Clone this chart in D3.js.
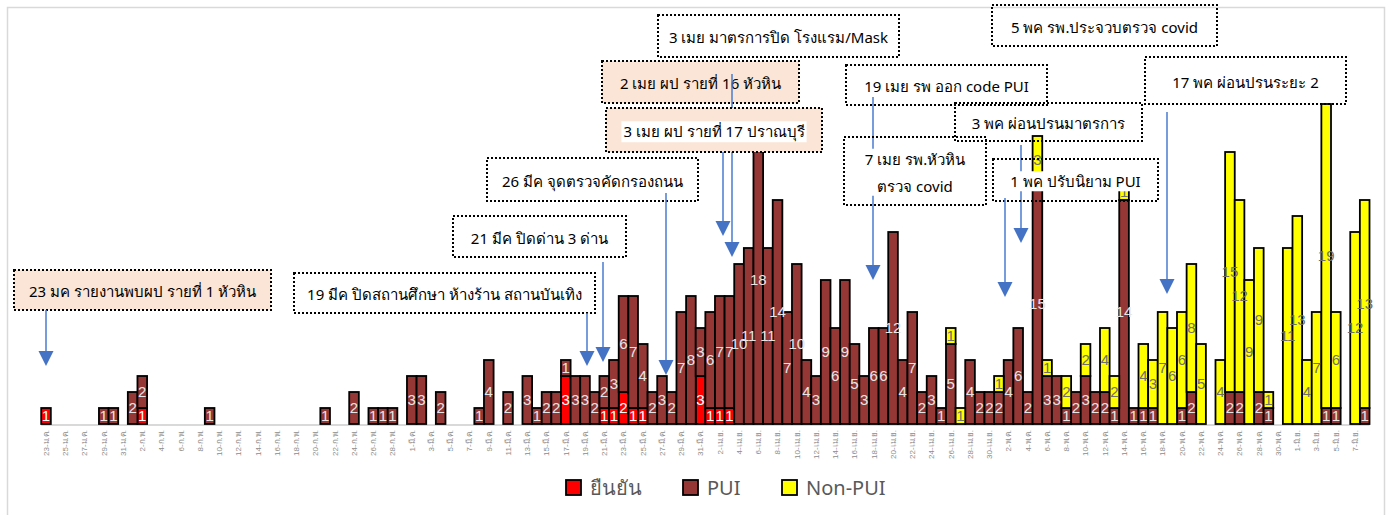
<!DOCTYPE html>
<html><head><meta charset="utf-8">
<script src="https://cdn.jsdelivr.net/npm/d3@7"></script>
<style>body{margin:0;background:#fff}svg{display:block}</style>
</head><body><svg id="c" width="1387" height="515"></svg>
<script>
const categories = [
"23-ม.ค.","24-ม.ค.","25-ม.ค.","26-ม.ค.","27-ม.ค.","28-ม.ค.","29-ม.ค.","30-ม.ค.","31-ม.ค.",
"1-ก.พ.","2-ก.พ.","3-ก.พ.","4-ก.พ.","5-ก.พ.","6-ก.พ.","7-ก.พ.","8-ก.พ.","9-ก.พ.","10-ก.พ.","11-ก.พ.","12-ก.พ.","13-ก.พ.","14-ก.พ.","15-ก.พ.","16-ก.พ.","17-ก.พ.","18-ก.พ.","19-ก.พ.","20-ก.พ.","21-ก.พ.","22-ก.พ.","23-ก.พ.","24-ก.พ.","25-ก.พ.","26-ก.พ.","27-ก.พ.","28-ก.พ.","29-ก.พ.",
"1-มี.ค.","2-มี.ค.","3-มี.ค.","4-มี.ค.","5-มี.ค.","6-มี.ค.","7-มี.ค.","8-มี.ค.","9-มี.ค.","10-มี.ค.","11-มี.ค.","12-มี.ค.","13-มี.ค.","14-มี.ค.","15-มี.ค.","16-มี.ค.","17-มี.ค.","18-มี.ค.","19-มี.ค.","20-มี.ค.","21-มี.ค.","22-มี.ค.","23-มี.ค.","24-มี.ค.","25-มี.ค.","26-มี.ค.","27-มี.ค.","28-มี.ค.","29-มี.ค.","30-มี.ค.","31-มี.ค.",
"1-เม.ย.","2-เม.ย.","3-เม.ย.","4-เม.ย.","5-เม.ย.","6-เม.ย.","7-เม.ย.","8-เม.ย.","9-เม.ย.","10-เม.ย.","11-เม.ย.","12-เม.ย.","13-เม.ย.","14-เม.ย.","15-เม.ย.","16-เม.ย.","17-เม.ย.","18-เม.ย.","19-เม.ย.","20-เม.ย.","21-เม.ย.","22-เม.ย.","23-เม.ย.","24-เม.ย.","25-เม.ย.","26-เม.ย.","27-เม.ย.","28-เม.ย.","29-เม.ย.","30-เม.ย.",
"1-พ.ค.","2-พ.ค.","3-พ.ค.","4-พ.ค.","5-พ.ค.","6-พ.ค.","7-พ.ค.","8-พ.ค.","9-พ.ค.","10-พ.ค.","11-พ.ค.","12-พ.ค.","13-พ.ค.","14-พ.ค.","15-พ.ค.","16-พ.ค.","17-พ.ค.","18-พ.ค.","19-พ.ค.","20-พ.ค.","21-พ.ค.","22-พ.ค.","23-พ.ค.","24-พ.ค.","25-พ.ค.","26-พ.ค.","27-พ.ค.","28-พ.ค.","29-พ.ค.","30-พ.ค.","31-พ.ค.",
"1-มิ.ย.","2-มิ.ย.","3-มิ.ย.","4-มิ.ย.","5-มิ.ย.","6-มิ.ย.","7-มิ.ย.","8-มิ.ย."
];
const confirmed = [
1,0,0,0,0,0,0,0,0,
0,1,0,0,0,0,0,0,0,0,0,0,0,0,0,0,0,0,0,0,0,0,0,0,0,0,0,0,0,
0,0,0,0,0,0,0,0,0,0,0,0,0,0,0,0,3,0,0,0,1,1,2,1,1,0,0,0,0,0,3,
1,1,1,0,0,0,0,0,0,0,0,0,0,0,0,0,0,0,0,0,0,0,0,0,0,0,0,0,0,0,
0,0,0,0,0,0,0,0,0,0,0,0,0,0,0,0,0,0,0,0,0,0,0,0,0,0,0,0,0,0,0,
0,0,0,0,0,0,0,0
];
const pui = [
0,0,0,0,0,0,1,1,0,
2,2,0,0,0,0,0,0,1,0,0,0,0,0,0,0,0,0,0,0,1,0,0,2,0,1,1,1,0,
3,3,0,2,0,0,0,1,4,0,2,0,3,1,2,2,1,3,3,2,2,3,6,7,4,2,3,2,7,8,3,
6,7,7,10,11,18,11,14,7,10,4,3,9,6,9,5,3,6,6,12,4,7,2,3,1,5,0,4,2,2,
2,4,6,2,15,3,3,1,2,3,2,2,1,14,1,1,1,0,0,1,2,0,0,0,2,2,0,2,1,0,0,
0,0,0,1,1,0,0,1
];
const nonPui = [
0,0,0,0,0,0,0,0,0,
0,0,0,0,0,0,0,0,0,0,0,0,0,0,0,0,0,0,0,0,0,0,0,0,0,0,0,0,0,
0,0,0,0,0,0,0,0,0,0,0,0,0,0,0,0,0,0,0,0,0,0,0,0,0,0,0,0,0,0,0,
0,0,0,0,0,0,0,0,0,0,0,0,0,0,0,0,0,0,0,0,0,0,0,0,0,1,1,0,0,0,
1,0,0,0,3,1,0,2,0,2,0,4,2,1,0,4,3,7,6,6,8,5,0,4,15,12,9,9,1,0,11,
13,4,7,19,6,0,12,13
];
const seriesNames = ["ยืนยัน","PUI","Non-PUI"];

const colors = ["#FF0000","#953735","#FFFF00"];
const labelColors = ["#ffffff","#e6e6e6","#6e6e6e"];
const svg = d3.select("#c");
svg.append("rect").attr("x",0).attr("y",0).attr("width",1387).attr("height",515).attr("fill","#fff");
svg.append("rect").attr("x",7.5).attr("y",7.5).attr("width",1377).attr("height",540)
  .attr("fill","none").attr("stroke","#d9d9d9").attr("stroke-width",1.5);

const x = d3.scaleBand().domain(categories).range([41.2,1369.5]).padding(0);
const y = d3.scaleLinear().domain([0,25]).range([424,24]);
const table = categories.map((c,i)=>({cat:c,c0:confirmed[i],c1:pui[i],c2:nonPui[i]}));
const keys = ["c0","c1","c2"];
const stacked = d3.stack().keys(keys)(table);

// axis
svg.append("line").attr("x1",x.range()[0]).attr("x2",x.range()[1]).attr("y1",425).attr("y2",425)
  .attr("stroke","#d9d9d9").attr("stroke-width",2);
const tickCats = categories.filter((c,i)=>i%2===0);
const axis = d3.axisBottom(x).tickValues(tickCats).tickSize(0).tickPadding(0);
const ag = svg.append("g").attr("transform","translate(0,425)").call(axis);
ag.select(".domain").remove();
ag.selectAll("text").attr("transform","rotate(-90)").attr("text-anchor","end")
  .attr("x",-5).attr("y",0).attr("dy","0.35em")
  .style("font-family","Liberation Sans, Arial, sans-serif").style("font-size","8px").attr("fill","#8c8c8c");

// bars
const bw = x.bandwidth();
stacked.forEach((s,k)=>{
  const g = svg.append("g");
  g.selectAll("rect").data(s.filter(d=>d[1]>d[0])).join("rect")
    .attr("x",d=>x(d.data.cat)).attr("width",bw)
    .attr("y",d=>y(d[1])).attr("height",d=>y(d[0])-y(d[1]))
    .attr("fill",colors[k]).attr("stroke","#000").attr("stroke-width",1.8);
});
stacked.forEach((s,k)=>{
  svg.append("g").selectAll("text").data(s.filter(d=>d[1]>d[0])).join("text")
    .attr("x",d=>x(d.data.cat)+bw/2).attr("y",d=>(y(d[0])+y(d[1]))/2).attr("dy","0.36em")
    .attr("text-anchor","middle").attr("fill",labelColors[k])
    .style("font-family","Liberation Sans, Arial, sans-serif").style("font-size","15px")
    .text(d=>d[1]-d[0]);
});

// annotations
const notes = [
 {t:"box", lines:["23 มค รายงานพบผป รายที่ 1 หัวหิน"], b:[14,270,271,310], fill:"#FBE5D6"},
 {t:"arrow", x:46, y1:310, y2:366},
 {t:"box", lines:["19 มีค ปิดสถานศึกษา ห้างร้าน สถานบันเทิง"], b:[294,273,595,313], bg:true},
 {t:"arrow", x:587, y1:313, y2:366},
 {t:"box", lines:["21 มีค ปิดด่าน 3 ด่าน"], b:[453,216,626,257], bg:true},
 {t:"arrow", x:603, y1:262, y2:362},
 {t:"box", lines:["26 มีค จุดตรวจคัดกรองถนน"], b:[487,158,698,201], bg:true},
 {t:"arrow", x:666, y1:193, y2:375},
 {t:"box", lines:["3 เมย มาตรการปิด โรงแรม/Mask"], b:[658,15,899,57], bg:true},
 {t:"box", lines:["2 เมย ผป รายที่ 16 หัวหิน"], b:[602,61,799,103], fill:"#FBE5D6"},
 {t:"arrow", x:732, y1:74, y2:257},
 {t:"box", lines:["3 เมย ผป รายที่ 17 ปราณบุรี"], b:[606,108,822,152], fill:"#FBE5D6", bg:true},
 {t:"arrow", x:723, y1:152, y2:236},
 {t:"arrow", x:873, y1:97, y2:280},
 {t:"box", lines:["19 เมย รพ ออก code PUI"], b:[846,65,1047,105], bg:true},
 {t:"box", lines:["7 เมย รพ.หัวหิน","ตรวจ covid"], b:[844,137,986,205], bg:true},
 {t:"box", lines:["5 พค รพ.ประจวบตรวจ covid"], b:[992,5,1217,46], bg:true},
 {t:"box", lines:["3 พค ผ่อนปรนมาตรการ"], b:[955,103,1142,141], bg:true},
 {t:"arrow", x:1021, y1:145, y2:243},
 {t:"box", lines:["1 พค ปรับนิยาม PUI"], b:[993,159,1158,201], bg:true},
 {t:"arrow", x:1005, y1:198, y2:297},
 {t:"box", lines:["17 พค ผ่อนปรนระยะ 2"], b:[1145,57,1346,104], bg:true},
 {t:"arrow", x:1167, y1:112, y2:294}
];
const fontAnn = "Noto Sans, Tahoma, sans-serif";
notes.forEach(n=>{
  if(n.t==="arrow"){
    svg.append("line").attr("x1",n.x).attr("x2",n.x).attr("y1",n.y1).attr("y2",n.y2-13)
      .attr("stroke","#4a7bd0").attr("stroke-width",1.5);
    svg.append("path").attr("d",`M${n.x-7.5},${n.y2-15}L${n.x+7.5},${n.y2-15}L${n.x},${n.y2}Z`)
      .attr("fill","#4472C4");
    return;
  }
  const [x0,y0,x1,y1] = n.b;
  const g = svg.append("g");
  g.append("rect").attr("x",x0).attr("y",y0).attr("width",x1-x0).attr("height",y1-y0)
    .attr("fill",n.fill||"none").attr("stroke","#000").attr("stroke-width",2).attr("stroke-dasharray","2,2");
  const cx=(x0+x1)/2, cy=(y0+y1)/2, lh=27;
  const bgRect = g.append("rect").attr("fill","#fff");
  const tg = g.append("g");
  n.lines.forEach((l,i)=>{
    tg.append("text").attr("x",cx).attr("y",cy+(i-(n.lines.length-1)/2)*lh+2).attr("dy","0.35em")
      .attr("text-anchor","middle").attr("fill","#000")
      .style("font-family",fontAnn).style("font-size","15px").text(l);
  });
  if(n.bg){
    const bb = tg.node().getBBox();
    bgRect.attr("x",bb.x-2).attr("y",bb.y).attr("width",bb.width+4).attr("height",bb.height);
  } else bgRect.remove();
});

// legend
const lg = svg.append("g");
const legX = [566,683,782];
seriesNames.forEach((nm,k)=>{
  lg.append("rect").attr("x",legX[k]).attr("y",480).attr("width",15).attr("height",15)
    .attr("fill",colors[k]).attr("stroke","#000").attr("stroke-width",1.8);
  lg.append("text").attr("x",legX[k]+24).attr("y",488).attr("dy","0.35em")
    .style("font-family","Noto Sans, Liberation Sans, sans-serif").style("font-size","20px").attr("fill","#595959").text(nm);
});
</script></body></html>
